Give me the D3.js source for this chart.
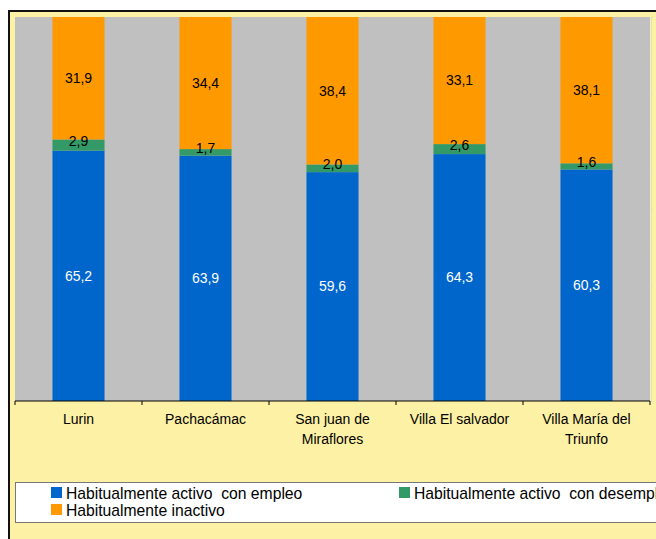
<!DOCTYPE html>
<html lang="es">
<head>
<meta charset="utf-8">
<title>Condición de actividad por distrito</title>
<style>
  body { margin: 0; background: #fff; }
  text { font-family: "Liberation Sans", Arial, sans-serif; }
</style>
</head>
<body>
<div id="chart"></div>
<script src="https://cdn.jsdelivr.net/npm/d3@7"></script>
<script>
// data (percent)
var categories = ["Lurin", "Pachacámac", "San juan de Miraflores", "Villa El salvador", "Villa María del Triunfo"];
var tickLines = [["Lurin"], ["Pachacámac"], ["San juan de", "Miraflores"], ["Villa El salvador"], ["Villa María del", "Triunfo"]];
var seriesNames = ["Habitualmente activo  con empleo", "Habitualmente activo  con desempleo", "Habitualmente inactivo"];
var empleo    = [65.2, 63.9, 59.6, 64.3, 60.3];
var desempleo = [2.9, 1.7, 2.0, 2.6, 1.6];
var inactivo  = [31.9, 34.4, 38.4, 33.1, 38.1];
var colors = ["#0066CC", "#339966", "#FF9900"];

var width = 656, height = 539;
var plot = {left: 15, top: 17, right: 650, bottom: 401};

var svg = d3.select("#chart").append("svg")
    .attr("width", width).attr("height", height);

// chart area frame
svg.append("rect")
    .attr("x", 9).attr("y", 11)
    .attr("width", width + 20).attr("height", height + 20)
    .attr("fill", "#FDF1A6")
    .attr("stroke", "#111").attr("stroke-width", 2);

// plot area
svg.append("rect")
    .attr("x", plot.left).attr("y", plot.top)
    .attr("width", plot.right - plot.left).attr("height", plot.bottom - plot.top)
    .attr("fill", "#C0C0C0");

var table = categories.map(function(c, i) {
    return {cat: c, empleo: empleo[i], desempleo: desempleo[i], inactivo: inactivo[i]};
});
var keys = ["empleo", "desempleo", "inactivo"];
var stacked = d3.stack().keys(keys)(table);

var x = d3.scaleBand().domain(categories)
    .range([plot.left, plot.right]).paddingInner(0.59).paddingOuter(0.295);
var y = d3.scaleLinear().domain([0, 100]).range([plot.bottom, plot.top]);

// faint hidden value axis on the right
var gy = svg.append("g")
    .attr("transform", "translate(" + (plot.right + 1) + ",0)")
    .call(d3.axisRight(y).ticks(10).tickSize(2).tickFormat(""));
gy.selectAll("line, path").attr("stroke", "#E4E0C8");

var fmt = function(v) { return d3.format(".1f")(v).replace(".", ","); };

var layers = svg.selectAll("g.layer")
    .data(stacked).enter()
    .append("g").attr("class", "layer")
    .attr("fill", function(d, i) { return colors[i]; });

layers.selectAll("rect")
    .data(function(d) { return d; }).enter()
    .append("rect")
    .attr("x", function(d) { return x(d.data.cat); })
    .attr("width", x.bandwidth())
    .attr("y", function(d) { return y(d[1]); })
    .attr("height", function(d) { return y(d[0]) - y(d[1]); });

// value labels go on top of every bar segment
var labelLayer = svg.append("g");
stacked.forEach(function(s, i) {
    labelLayer.selectAll("text.val" + i)
        .data(s).enter()
        .append("text").attr("class", "val" + i)
        .attr("x", function(d) { return x(d.data.cat) + x.bandwidth() / 2; })
        .attr("y", function(d) { return (y(d[0]) + y(d[1])) / 2 - (i == 1 ? 4 : 0); })
        .attr("dy", "0.35em")
        .attr("text-anchor", "middle")
        .attr("font-size", 14)
        .attr("fill", i == 0 ? "#fff" : "#000")
        .text(function(d) { return fmt(d[1] - d[0]); });
});

// x axis
var xAxis = d3.axisBottom(x).tickSize(0).tickFormat("");
var gx = svg.append("g")
    .attr("transform", "translate(0," + plot.bottom + ")")
    .call(xAxis);
gx.select(".domain").attr("stroke", "#000").attr("d", "M" + plot.left + ",0H" + plot.right);

// tick marks between categories
var bounds = d3.range(categories.length + 1).map(function(i) { return plot.left + i * x.step(); });
gx.selectAll("line.bound")
    .data(bounds).enter()
    .append("line").attr("class", "bound")
    .attr("x1", function(d) { return d; }).attr("x2", function(d) { return d; })
    .attr("y1", 0).attr("y2", 4)
    .attr("stroke", "#000");

gx.selectAll("text.cat")
    .data(categories).enter()
    .append("text").attr("class", "cat")
    .attr("text-anchor", "middle")
    .attr("font-size", 14)
    .attr("fill", "#000")
    .each(function(c, i) {
        var t = d3.select(this);
        tickLines[i].forEach(function(line, j) {
            t.append("tspan")
                .attr("x", x(c) + x.bandwidth() / 2)
                .attr("y", 23 + j * 20)
                .text(line);
        });
    });

// legend
var legend = svg.append("g");
legend.append("rect")
    .attr("x", 15.5).attr("y", 482.5)
    .attr("width", 700).attr("height", 40)
    .attr("fill", "#fff").attr("stroke", "#777");

var legPos = [{x: 51, y: 487}, {x: 399, y: 487}, {x: 51, y: 504}];
var items = legend.selectAll("g.item")
    .data(seriesNames).enter()
    .append("g").attr("class", "item")
    .attr("transform", function(d, i) { return "translate(" + legPos[i].x + "," + legPos[i].y + ")"; });
items.append("rect")
    .attr("width", 11).attr("height", 11)
    .attr("fill", function(d, i) { return colors[i]; });
items.append("text")
    .attr("x", 15).attr("y", 6).attr("dy", "0.35em")
    .attr("font-size", 15.7)
    .attr("fill", "#000")
    .style("white-space", "pre")
    .text(function(d) { return d; });
</script>
</body>
</html>
